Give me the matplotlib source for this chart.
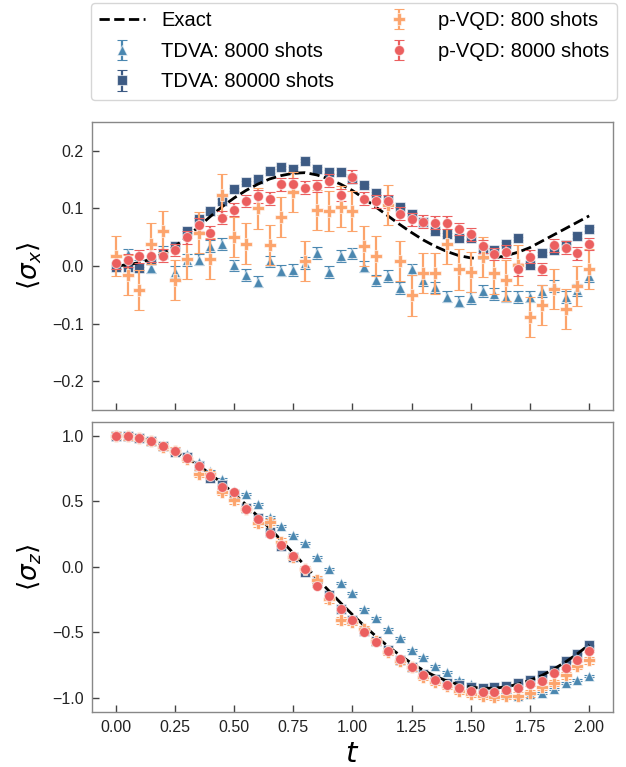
import numpy as np
import matplotlib
matplotlib.use("Agg")
import matplotlib.pyplot as plt

plt.rcParams['font.family'] = ['Liberation Sans', 'DejaVu Sans']
plt.rcParams['mathtext.fontset'] = 'dejavusans'

t = np.round(np.arange(41) * 0.05, 2)

exact_x = [0.000, 0.002, 0.006, 0.012, 0.021, 0.034, 0.050, 0.068, 0.086, 0.103, 0.118,
           0.131, 0.142, 0.151, 0.157, 0.161, 0.162, 0.158, 0.151, 0.142, 0.131,
           0.117, 0.102, 0.087, 0.072, 0.058, 0.045, 0.034, 0.025, 0.018, 0.014,
           0.013, 0.014, 0.018, 0.024, 0.032, 0.043, 0.054, 0.065, 0.076, 0.087]
tdva8k_x = [0.005, 0.020, 0.000, -0.003, 0.025, -0.010, 0.010, 0.011, 0.035, 0.038, 0.001,
            -0.016, -0.027, 0.008, -0.008, -0.007, 0.005, 0.023, -0.010, 0.017, 0.022,
            -0.001, -0.025, -0.017, -0.038, -0.006, -0.024, -0.037, -0.053, -0.062, -0.056,
            -0.043, -0.049, -0.053, -0.054, -0.053, -0.043, -0.035, -0.054, -0.042, -0.017]
tdva80k_x = [-0.001, -0.001, -0.004, 0.010, 0.021, 0.035, 0.061, 0.082, 0.096, 0.113, 0.133,
             0.145, 0.151, 0.165, 0.171, 0.168, 0.183, 0.168, 0.164, 0.163, 0.151,
             0.140, 0.126, 0.114, 0.103, 0.090, 0.077, 0.061, 0.055, 0.049, 0.048,
             0.029, 0.027, 0.038, 0.048, 0.002, 0.022, 0.028, 0.036, 0.052, 0.064]
pvqd800_x = [0.017, -0.016, -0.042, 0.039, 0.060, -0.024, 0.013, 0.058, 0.013, 0.124, 0.050,
             0.039, 0.100, 0.037, 0.085, 0.128, 0.009, 0.097, 0.095, 0.103, 0.095,
             0.035, 0.017, 0.106, 0.009, -0.051, -0.012, -0.013, 0.039, -0.006, -0.010,
             0.016, -0.013, -0.025, 0.002, -0.088, -0.068, -0.040, -0.075, -0.035, -0.005]
pvqd8k_x = [0.006, 0.010, 0.017, 0.018, 0.018, 0.028, 0.050, 0.072, 0.058, 0.084, 0.098,
            0.113, 0.121, 0.117, 0.142, 0.142, 0.136, 0.139, 0.148, 0.123, 0.155,
            0.117, 0.112, 0.112, 0.091, 0.081, 0.077, 0.075, 0.075, 0.064, 0.055,
            0.034, 0.021, 0.025, -0.006, 0.016, -0.005, 0.036, 0.032, 0.022, 0.038]

exact_z = [1.000, 0.995, 0.981, 0.957, 0.924, 0.882, 0.831, 0.773, 0.707, 0.635, 0.556,
           0.473, 0.385, 0.293, 0.199, 0.103, 0.007, -0.089, -0.184, -0.277, -0.367,
           -0.452, -0.533, -0.608, -0.676, -0.738, -0.792, -0.837, -0.874, -0.902, -0.920,
           -0.929, -0.928, -0.918, -0.898, -0.868, -0.831, -0.783, -0.728, -0.666, -0.596]
tdva8k_z = [1.000, 0.997, 0.990, 0.964, 0.931, 0.893, 0.863, 0.799, 0.730, 0.672, 0.580,
            0.557, 0.479, 0.377, 0.310, 0.241, 0.178, 0.075, -0.019, -0.124, -0.203,
            -0.326, -0.391, -0.474, -0.542, -0.637, -0.693, -0.758, -0.806, -0.865, -0.893,
            -0.931, -0.970, -0.970, -0.985, -0.970, -0.962, -0.937, -0.890, -0.863, -0.838]
tdva80k_z = [1.000, 0.995, 0.980, 0.955, 0.920, 0.875, 0.835, 0.770, 0.680, 0.620, 0.555,
             0.450, 0.370, 0.265, 0.160, 0.070, -0.040, -0.120, -0.220, -0.320, -0.410,
             -0.490, -0.570, -0.640, -0.710, -0.770, -0.820, -0.855, -0.890, -0.905, -0.916,
             -0.926, -0.921, -0.908, -0.890, -0.865, -0.831, -0.788, -0.724, -0.665, -0.601]
pvqd800_z = [1.000, 0.995, 0.980, 0.955, 0.915, 0.885, 0.820, 0.710, 0.705, 0.570, 0.505,
             0.440, 0.330, 0.340, 0.190, 0.075, -0.020, -0.100, -0.250, -0.410, -0.420,
             -0.480, -0.570, -0.650, -0.720, -0.770, -0.840, -0.878, -0.910, -0.946, -0.972,
             -0.985, -0.992, -0.985, -0.985, -0.968, -0.916, -0.888, -0.831, -0.755, -0.716]
pvqd8k_z = [1.000, 0.995, 0.980, 0.957, 0.921, 0.883, 0.830, 0.766, 0.692, 0.608, 0.567,
            0.443, 0.360, 0.250, 0.162, 0.078, -0.016, -0.145, -0.222, -0.327, -0.408,
            -0.499, -0.576, -0.648, -0.709, -0.768, -0.828, -0.862, -0.903, -0.926, -0.946,
            -0.954, -0.954, -0.941, -0.926, -0.900, -0.870, -0.814, -0.773, -0.716, -0.645]

err_x = {"tdva8k": 0.010, "tdva80k": 0.003, "pvqd800": 0.035, "pvqd8k": 0.011}
err_z = {"tdva8k": 0.008, "tdva80k": 0.003, "pvqd800": 0.025, "pvqd8k": 0.008}

labels = {"exact": "Exact", "tdva8k": "TDVA: 8000 shots", "tdva80k": "TDVA: 80000 shots",
          "pvqd800": "p-VQD: 800 shots", "pvqd8k": "p-VQD: 8000 shots"}
colors = {"tdva8k": "#4a87b0", "tdva80k": "#3d5b84", "pvqd800": "#fca46c", "pvqd8k": "#eb5f5f"}
markers = {"tdva8k": "^", "tdva80k": "s", "pvqd800": "P", "pvqd8k": "o"}
msizes = {"tdva8k": 7.5, "tdva80k": 7, "pvqd800": 8, "pvqd8k": 7.2}

fig = plt.figure(figsize=(6.26, 7.67), dpi=100)
ax1 = fig.add_axes([0.147, 0.4654, 0.832, 0.3756])
ax2 = fig.add_axes([0.147, 0.0717, 0.832, 0.3783], sharex=ax1)

data_x = {"tdva8k": tdva8k_x, "tdva80k": tdva80k_x, "pvqd800": pvqd800_x, "pvqd8k": pvqd8k_x}
data_z = {"tdva8k": tdva8k_z, "tdva80k": tdva80k_z, "pvqd800": pvqd800_z, "pvqd8k": pvqd8k_z}

handles = {}
for ax, data, err, exact in [(ax1, data_x, err_x, exact_x), (ax2, data_z, err_z, exact_z)]:
    for key in ["tdva8k", "tdva80k"]:
        c = colors[key]
        h = ax.errorbar(t, data[key], yerr=err[key], fmt=markers[key], color=c, ms=msizes[key],
                        mec=(1, 1, 1, 0.6), mew=0.8, capsize=3.5, elinewidth=1.6, capthick=1.6,
                        ecolor=c, label=labels[key], zorder=2)
        handles[key] = h
    ln, = ax.plot(t, exact, '--', color='black', lw=2, label=labels["exact"], zorder=3)
    handles["exact"] = ln
    for key in ["pvqd800", "pvqd8k"]:
        c = colors[key]
        h = ax.errorbar(t, data[key], yerr=err[key], fmt=markers[key], color=c, ms=msizes[key],
                        mec=(1, 1, 1, 0.6), mew=0.8, capsize=3.5, elinewidth=1.6, capthick=1.6,
                        ecolor=c, label=labels[key], zorder=4)
        handles[key] = h

for ax in (ax1, ax2):
    ax.tick_params(direction='in', length=5, width=1, color='#444444', labelsize=11.5,
                   labelcolor='#222222', pad=6)
    for s in ax.spines.values():
        s.set_color('#888888')
        s.set_linewidth(1.0)

ax1.set_xlim(-0.1, 2.1)
ax1.set_ylim(-0.25, 0.25)
ax1.set_yticks([-0.2, -0.1, 0.0, 0.1, 0.2])
ax1.tick_params(labelbottom=False)
ax2.set_ylim(-1.11, 1.105)
ax2.set_yticks([-1.0, -0.5, 0.0, 0.5, 1.0])
ax2.set_xticks([0.0, 0.25, 0.5, 0.75, 1.0, 1.25, 1.5, 1.75, 2.0])
ax2.set_xticklabels(["0.00", "0.25", "0.50", "0.75", "1.00", "1.25", "1.50", "1.75", "2.00"])

ax1.set_ylabel(r"$\langle\sigma_x\rangle$", fontsize=19, labelpad=6)
ax2.set_ylabel(r"$\langle\sigma_z\rangle$", fontsize=19, labelpad=6)
ax2.set_xlabel(r"$t$", fontsize=21, labelpad=3)

order = ["exact", "tdva8k", "tdva80k", "pvqd800", "pvqd8k"]
leg = fig.legend([handles[k] for k in order], [labels[k] for k in order],
                 loc='upper left', bbox_to_anchor=(0.145, 0.876, 0.841, 0.12), mode='expand',
                 ncol=2, fontsize=14.5, frameon=True, fancybox=True, edgecolor='#cccccc',
                 handlelength=2.3, labelspacing=0.58, borderpad=0.4, borderaxespad=0.0)

fig.savefig("out.png", dpi=100)
